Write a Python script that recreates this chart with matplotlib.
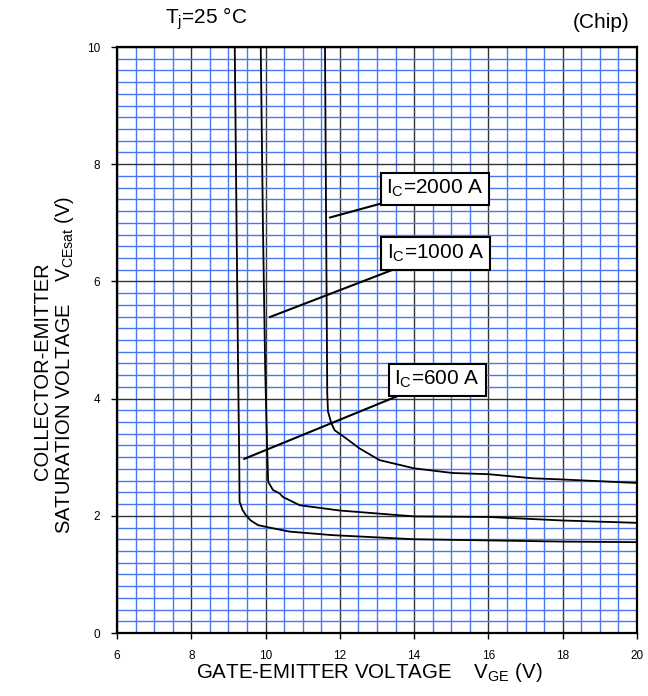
import numpy as np
import matplotlib.pyplot as plt
from matplotlib.ticker import MultipleLocator

plt.rcParams["font.family"] = ["Liberation Sans", "DejaVu Sans"]
plt.rcParams["mathtext.fontset"] = "custom"
plt.rcParams["mathtext.rm"] = "Liberation Sans"
plt.rcParams["mathtext.it"] = "Liberation Sans"

# curvas VCEsat vs VGE, Tj = 25 C
vge_600 = [9.17, 9.22, 9.26, 9.29, 9.30, 9.38, 9.47, 9.60, 9.80, 10.02, 10.65, 11.8, 14.0, 16.0, 18.0, 20.0]
vce_600 = [10.0, 6.9, 4.5, 3.0, 2.24, 2.10, 2.01, 1.92, 1.84, 1.81, 1.73, 1.67, 1.60, 1.58, 1.56, 1.55]

vge_1000 = [9.87, 9.93, 9.99, 10.04, 10.07, 10.20, 10.38, 10.47, 10.92, 12.0, 14.0, 16.0, 18.0, 20.0]
vce_1000 = [10.0, 6.9, 4.5, 3.2, 2.58, 2.44, 2.38, 2.32, 2.18, 2.09, 1.99, 1.98, 1.92, 1.88]

vge_2000 = [11.60, 11.62, 11.66, 11.68, 11.77, 11.86, 12.17, 12.53, 13.07, 14.0, 15.04, 16.0, 17.19, 18.0, 20.0]
vce_2000 = [10.0, 8.0, 4.1, 3.78, 3.58, 3.46, 3.32, 3.15, 2.95, 2.81, 2.73, 2.71, 2.64, 2.62, 2.56]

# etiquetas: texto, centro de la caja, punta de la linea
etiquetas = ["2000", "1000", "600"]
caja_x = [14.56, 14.58, 14.62]
caja_y = [7.58, 6.48, 4.32]
punta_x = [11.73, 10.11, 9.42]
punta_y = [7.09, 5.39, 2.97]

fig = plt.figure(figsize=(6.48, 6.96), dpi=100)
ax = fig.add_axes([117 / 648, 1 - 633 / 696, 520 / 648, 586 / 696])

ax.set_xlim(6, 20)
ax.set_ylim(0, 10)
ax.xaxis.set_major_locator(MultipleLocator(2))
ax.yaxis.set_major_locator(MultipleLocator(2))
ax.xaxis.set_minor_locator(MultipleLocator(0.5))
ax.yaxis.set_minor_locator(MultipleLocator(0.2))

ax.grid(True, which="minor", color="#4a78f5", linewidth=1.0)
ax.grid(True, which="major", color="#333333", linewidth=1.0)
ax.set_axisbelow(True)
ax.tick_params(which="minor", length=0)
ax.tick_params(which="major", direction="out", length=4, width=1, labelsize=8.5, pad=8)

for s in ax.spines.values():
    s.set_linewidth(1.6)
    s.set_color("black")

ax.plot(vge_600, vce_600, color="black", lw=1.3)
ax.plot(vge_1000, vce_1000, color="black", lw=1.3)
ax.plot(vge_2000, vce_2000, color="black", lw=1.3)

for et, bx, by, px, py in zip(etiquetas, caja_x, caja_y, punta_x, punta_y):
    ax.annotate(r"I$_{\mathrm{C}}$=" + et + " A", xy=(px, py), xytext=(bx, by),
                ha="center", va="center", fontsize=15,
                bbox=dict(boxstyle="square,pad=0.27", fc="white", ec="black", lw=1.5),
                arrowprops=dict(arrowstyle="-", color="black", lw=1.5,
                                shrinkA=0, shrinkB=0))

fig.text(165 / 648, 1 - 19 / 696, r"T$_{\mathrm{j}}$=25 °C", fontsize=15, ha="left", va="center")
fig.text(630 / 648, 1 - 22 / 696, "(Chip)", fontsize=15, ha="right", va="center")

fig.text(369 / 648, 1 - 672 / 696, r"GATE-EMITTER VOLTAGE    V$_{\mathrm{GE}}$ (V)",
         fontsize=14.8, ha="center", va="center")
# etiqueta del eje y en dos lineas (linea base a la derecha del texto girado)
fig.text(48 / 648, 1 - 371 / 696, "COLLECTOR-EMITTER", fontsize=14.5,
         rotation=90, rotation_mode="anchor", ha="center", va="baseline")
fig.text(70 / 648, 1 - 365 / 696, r"SATURATION VOLTAGE    V$_{\mathrm{CEsat}}$ (V)",
         fontsize=14.5, rotation=90, rotation_mode="anchor", ha="center", va="baseline")

fig.savefig("out.png", dpi=100)
